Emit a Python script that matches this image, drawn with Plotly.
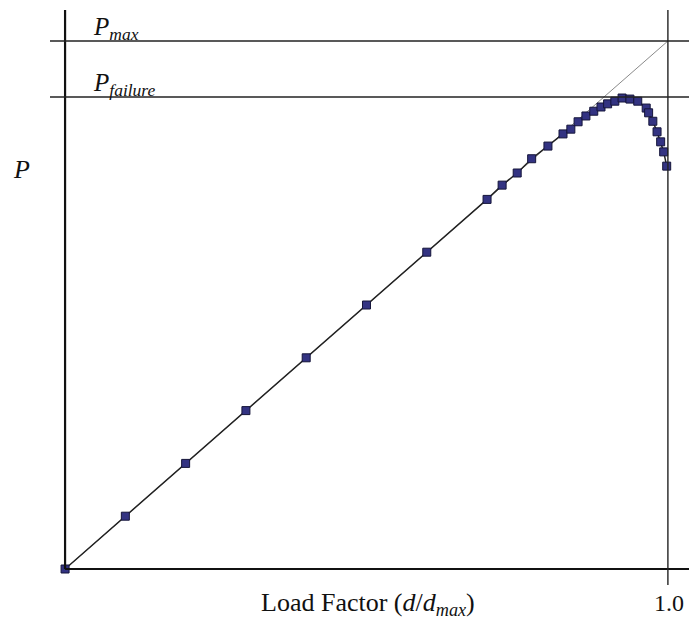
import plotly.graph_objects as go

# Load factor d/d_max and normalised load P/P_max
load_factor = [0.0, 0.1, 0.2, 0.3, 0.4, 0.5, 0.6, 0.7,
               0.725, 0.750, 0.774, 0.801, 0.826, 0.839, 0.851, 0.864,
               0.877, 0.889, 0.900, 0.912, 0.924, 0.937, 0.950, 0.964,
               0.968, 0.975, 0.982, 0.988, 0.993, 0.998]
load = [0.0, 0.1, 0.2, 0.3, 0.4, 0.5, 0.6, 0.7,
        0.727, 0.750, 0.777, 0.801, 0.824, 0.833, 0.847, 0.858,
        0.867, 0.875, 0.881, 0.886, 0.892, 0.890, 0.886, 0.873,
        0.864, 0.848, 0.828, 0.809, 0.790, 0.763]

P_MAX = 1.0
P_FAILURE = 0.894
X_END = 1.0

x_range = [-0.025, 1.035]
y_range = [-0.0303, 1.0587]

SERIF = "Liberation Serif, Times New Roman, serif"
INK = "#111111"

fig = go.Figure()

# ideal elastic response, straight from origin to (1, P_max)
fig.add_trace(go.Scatter(
    x=[0.0, X_END], y=[0.0, P_MAX], mode="lines",
    line=dict(color="#8a8a8a", width=1), hoverinfo="skip", showlegend=False))

# measured response
fig.add_trace(go.Scatter(
    x=load_factor, y=load, mode="lines+markers",
    line=dict(color="#222222", width=1.5),
    marker=dict(symbol="square", size=8, color="#333382",
                line=dict(color="#15153a", width=1)),
    showlegend=False))

axis_line = dict(color=INK, width=2.2)
ref_line = dict(color="#222222", width=1.4)

shapes = [
    # y axis
    dict(type="line", xref="x", yref="y", x0=0, x1=0, y0=0, y1=y_range[1], line=axis_line),
    # x axis
    dict(type="line", xref="x", yref="y", x0=0, x1=x_range[1], y0=0, y1=0, line=axis_line),
    # P_max and P_failure levels
    dict(type="line", xref="x", yref="y", x0=x_range[0], x1=x_range[1],
         y0=P_MAX, y1=P_MAX, line=ref_line),
    dict(type="line", xref="x", yref="y", x0=x_range[0], x1=x_range[1],
         y0=P_FAILURE, y1=P_FAILURE, line=ref_line),
    # d = d_max
    dict(type="line", xref="x", yref="y", x0=X_END, x1=X_END,
         y0=y_range[0], y1=y_range[1], line=ref_line),
]

annotations = [
    dict(text="<i>P</i><sub><i>max</i></sub>", x=0.043, y=P_MAX, xref="x", yref="y",
         xanchor="left", yanchor="bottom", yshift=-5, showarrow=False,
         font=dict(family=SERIF, size=25, color=INK)),
    dict(text="<i>P</i><sub><i>failure</i></sub>", x=0.043, y=P_FAILURE, xref="x", yref="y",
         xanchor="left", yanchor="bottom", yshift=-5, showarrow=False,
         font=dict(family=SERIF, size=25, color=INK)),
    dict(text="<i>P</i>", x=-0.045, y=0.722, xref="paper", yref="paper",
         xanchor="center", yanchor="middle",
         showarrow=False, font=dict(family=SERIF, size=26, color=INK)),
    dict(text="Load Factor (<i>d</i>/<i>d</i><sub><i>max</i></sub>)",
         x=0.497, y=-0.033, xref="paper", yref="paper", xanchor="center", yanchor="middle",
         showarrow=False, font=dict(family=SERIF, size=26, color=INK)),
    dict(text="1.0", x=X_END, y=-0.031, xref="x", yref="paper", xanchor="center",
         yanchor="middle", xshift=1, showarrow=False,
         font=dict(family=SERIF, size=24, color=INK)),
]

fig.update_layout(
    width=689, height=630,
    margin=dict(l=50, r=0, t=10, b=45),
    paper_bgcolor="white", plot_bgcolor="white",
    xaxis=dict(range=x_range, visible=False),
    yaxis=dict(range=y_range, visible=False),
    shapes=shapes, annotations=annotations,
)

fig.write_html("out.html")
